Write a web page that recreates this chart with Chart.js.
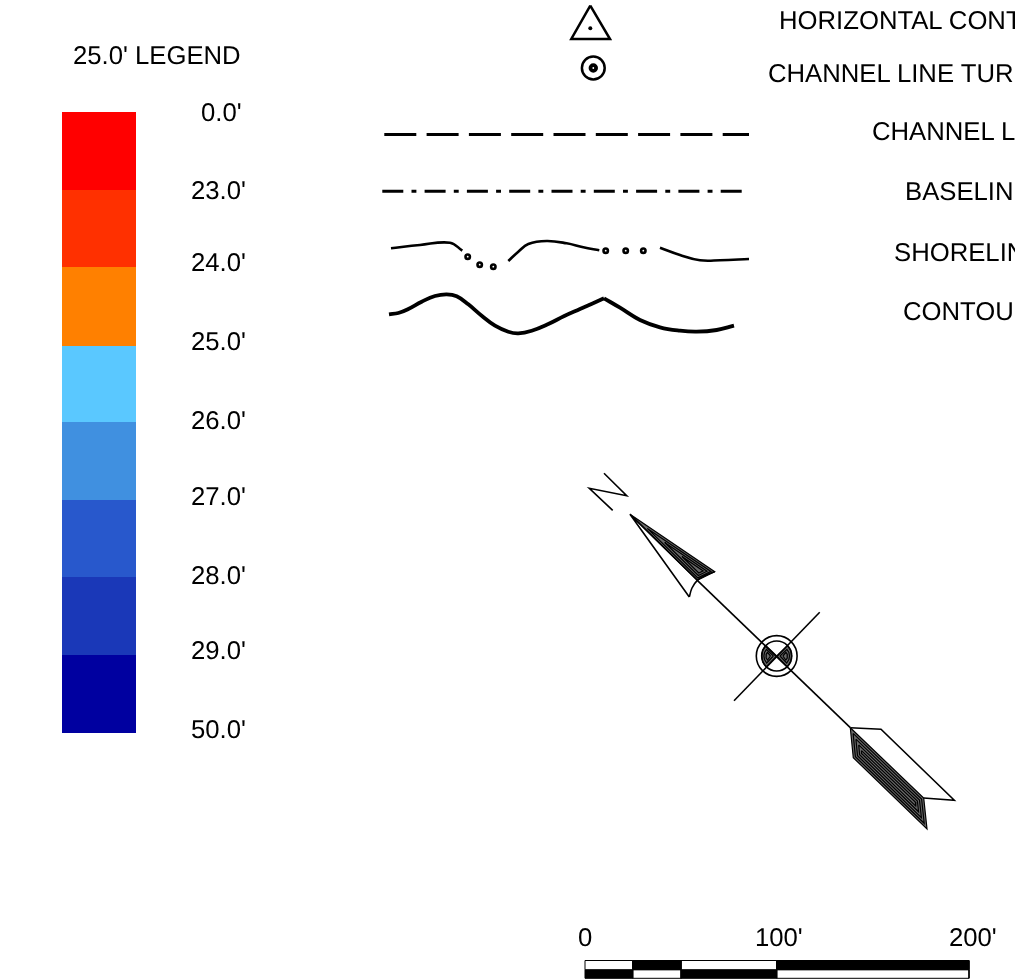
<!DOCTYPE html>
<html>
<head>
<meta charset="utf-8">
<title>Legend sheet</title>
<script src="https://cdn.jsdelivr.net/npm/chart.js@4"></script>
<style>
    html, body { margin: 0; padding: 0; background: #fff; overflow: hidden; }
    canvas { display: block; }
</style>
</head>
<body>
<canvas id="sheet" width="1015" height="979"></canvas>
<script>
// ================= DATA =================
const depthLabels = ["0.0'", "23.0'", "24.0'", "25.0'", "26.0'", "27.0'", "28.0'", "29.0'", "50.0'"];
const depthLabelX = [201, 191, 191, 191, 191, 191, 191, 191, 191];
const depthLabelY = [113.5, 191.5, 263.5, 342.5, 421.5, 497.5, 576.5, 651.5, 730.5];
const rampEdges = [112, 190, 267, 346, 422, 500, 577, 655, 733];
const rampColors = ["#ff0000", "#ff3000", "#ff8000", "#5ac8ff", "#4090e0", "#2858cc", "#1a38b8", "#0000a0"];

const keyLabels = ["HORIZONTAL CONTROL", "CHANNEL LINE TURN", "CHANNEL LINE", "BASELINE", "SHORELINE", "CONTOUR"];
const keyLabelX = [779, 768, 872, 905, 894, 903];
const keyLabelY = [21.5, 74.5, 132.5, 192.5, 253.5, 312.5];

const barEdges = [585, 632.7, 681, 776.7, 969];
const barLabels = ["0", "100'", "200'"];
const barLabelX = [578, 755, 949];

const triangleMark = [[590.3, 5.7], [571.3, 39], [610, 39], [590.3, 5.7]];
const channelLine = [[384.3, 134.5], [749, 134.5]];
const baseLine = [[382.3, 191.3], [742.7, 191.3]];

const shoreA = [[391, 248.3], [420, 245], [450, 242.7], [462.3, 250.7]];
const shoreB = [[508.3, 261], [518.3, 251.7], [528.3, 244], [546.7, 241], [566.7, 243.3], [583.3, 247.3], [599.3, 250.3]];
const shoreC = [[660, 247.7], [680, 255], [700, 260.3], [720, 260.3], [749, 259]];
const shoreDots = [[467.7, 256.7], [479.7, 264.7], [493.3, 266.7], [605.7, 250.7], [625.7, 250.7], [643.3, 250.7]];

const contourA = [[389, 314.3], [398.3, 313], [408.3, 309], [421.7, 301.7], [435, 296], [446.7, 294.3], [456.7, 296.3], [468.3, 304.3], [481.7, 315.7], [495, 325.7], [508.3, 331.7], [518.3, 333.3], [531.7, 330.7], [548.3, 324], [564.3, 316], [580, 309], [604, 298.3]];
const contourB = [[604, 298.3], [620, 307.7], [640, 320], [660, 327.3], [680, 330.7], [696.7, 331.7], [716.7, 330], [734, 325.7]];

const northN = [[604, 473.3], [626.7, 495.7], [589.3, 488.3], [612.7, 510.3]];
const shaft = [[697.3, 580.3], [850.3, 727.7]];
const crossLine = [[734, 700.7], [819.7, 612.3]];
const compassCentre = [[776.7, 656]];

const headEdge = [[697.3, 580.3], [630, 514.3], [689.3, 597]];
const headCurve = [[689.3, 597], [692, 588], [697.3, 580.3], [705, 575.5], [714.7, 571.7]];

// hatched parts, innermost ring first
const headRings = [
    [[682, 556.5], [703.2, 570.9], [698.8, 573], [682, 556.5]],
    [[664.7, 542.5], [707, 571.2], [698.3, 575.5], [664.7, 542.5]],
    [[647.3, 528.4], [710.9, 571.4], [697.8, 577.9], [647.3, 528.4]],
    [[630, 514.3], [714.7, 571.7], [697.3, 580.3], [630, 514.3]]
];

const tailOutline = [[850.3, 727.7], [881, 729.3], [954.3, 800.3], [923.7, 798]];
const tailRings = [
    [[861.5, 750.6], [915.3, 802.1], [915.8, 806.1], [861.7, 753.6], [861.5, 750.6]],
    [[858.7, 744.9], [917.4, 801.1], [918.6, 811.8], [859.6, 754.6], [858.7, 744.9]],
    [[855.9, 739.1], [919.5, 800.1], [921.4, 817.6], [857.5, 755.6], [855.9, 739.1]],
    [[853.1, 733.4], [921.6, 799], [924.2, 823.3], [855.4, 756.7], [853.1, 733.4]],
    [[850.3, 727.7], [923.7, 798], [927, 829], [853.3, 757.7], [850.3, 727.7]]
];

const wedgeLeft = [
    [[770.5, 656], [767.5, 652.3], [766.3, 654], [766, 656], [766.3, 658], [767.6, 660], [770.5, 656]],
    [[773.4, 656], [766.5, 649.4], [764.5, 652.5], [763.9, 656], [764.5, 659.5], [766.7, 663], [773.4, 656]],
    [[776.7, 656], [765.9, 645.6], [762.8, 650], [761.7, 656], [762.8, 662], [766.2, 666.8], [776.7, 656]]
];
const wedgeRight = [
    [[782.9, 656], [785.9, 652.3], [787.1, 654], [787.4, 656], [787.1, 658], [785.8, 660], [782.9, 656]],
    [[780, 656], [786.9, 649.4], [788.9, 652.5], [789.5, 656], [788.9, 659.5], [786.7, 663], [780, 656]],
    [[776.7, 656], [787.5, 645.6], [790.6, 650], [791.7, 656], [790.6, 662], [787.2, 666.8], [776.7, 656]]
];


// ================= HELPERS =================
function toPoints(pairs) {
    return pairs.map(p => ({ x: p[0], y: p[1] }));
}

function line(pairs, width, extra) {
    return Object.assign({
        type: "line",
        data: toPoints(pairs),
        borderColor: "#000",
        borderWidth: width,
        pointRadius: 0,
        fill: false,
        tension: 0,
        clip: false
    }, extra);
}

function curve(pairs, width) {
    return line(pairs, width, { tension: 0.4 });
}

function box(x1, x2, y1, y2, color, edge) {
    return line([[x1, y1], [x2, y1], [x2, y2], [x1, y2], [x1, y1]], edge ? 1 : 0, {
        backgroundColor: color,
        borderColor: edge ? "#000" : color,
        fill: "shape"
    });
}

function mark(pairs, radius, width, fillColor) {
    return {
        type: "scatter",
        data: toPoints(pairs),
        pointRadius: radius,
        pointBorderWidth: width,
        pointBorderColor: "#000",
        pointBackgroundColor: fillColor,
        clip: false
    };
}

function hatch(rings) {
    rings.forEach((ring, i) => {
        const outer = i === rings.length - 1;
        datasets.push(line(ring, 1.2, outer ? { fill: "shape", backgroundColor: "#6a6a6a" } : {}));
    });
}


// ================= DATASETS =================
// first dataset is painted last, so the inner marks come first
const datasets = [];

// ----- colour ramp -----
rampColors.forEach((color, i) => {
    datasets.push(box(62, 136, rampEdges[i], rampEdges[i + 1], color, false));
});

// ----- line key -----
datasets.push(line(triangleMark, 2.5));
datasets.push(mark([[590.3, 28.3]], 2, 0, "#000"));
datasets.push(mark([[593.3, 68]], 2.8, 3.8, "#fff"));
datasets.push(mark([[593.3, 68]], 11.4, 2.5, "#fff"));
datasets.push(line(channelLine, 2.8, { borderDash: [32, 10.3] }));
datasets.push(line(baseLine, 3, { borderDash: [21, 8.2, 4.9, 8.2] }));
datasets.push(curve(shoreA, 2.6));
datasets.push(curve(shoreB, 2.6));
datasets.push(curve(shoreC, 2.6));
datasets.push(mark(shoreDots, 2.2, 2.6, "#fff"));
datasets.push(curve(contourA, 3.8));
datasets.push(curve(contourB, 3.8));

// ----- north arrow -----
datasets.push(line(northN, 1.6));
datasets.push(line(shaft, 1.6));
datasets.push(line(crossLine, 1.6));
datasets.push(mark(compassCentre, 20.4, 1.6, "rgba(0,0,0,0)"));
datasets.push(mark(compassCentre, 15, 1.6, "rgba(0,0,0,0)"));
hatch(wedgeLeft);
hatch(wedgeRight);
datasets.push(line(headEdge, 1.6));
datasets.push(line(headCurve, 1.6, { tension: 0.4 }));
hatch(headRings);
datasets.push(line(tailOutline, 1.6));
hatch(tailRings);

// ----- scale bar -----
barEdges.slice(0, -1).forEach((left, i) => {
    const right = barEdges[i + 1];
    datasets.push(box(left, right, 960.5, 969.7, i % 2 ? "#000" : "#fff", true));
    datasets.push(box(left, right, 969.7, 978.3, i % 2 ? "#fff" : "#000", true));
});


// ================= TEXT =================
const sheetText = {
    id: "sheetText",
    afterDatasetsDraw(chart) {
        const ctx = chart.ctx;
        const xs = chart.scales.x;
        const ys = chart.scales.y;

        const put = (text, x, y) => ctx.fillText(text, xs.getPixelForValue(x), ys.getPixelForValue(y));

        ctx.save();
        ctx.font = "25.7px 'Liberation Sans'";
        ctx.textRendering = "geometricPrecision";
        ctx.fillStyle = "#000";
        ctx.textAlign = "left";
        ctx.textBaseline = "middle";

        put("25.0' LEGEND", 73, 56.5);
        depthLabels.forEach((t, i) => put(t, depthLabelX[i], depthLabelY[i]));
        keyLabels.forEach((t, i) => put(t, keyLabelX[i], keyLabelY[i]));
        barLabels.forEach((t, i) => put(t, barLabelX[i], 938.5));

        ctx.restore();
    }
};


// ================= CHART =================
new Chart(document.getElementById("sheet"), {
    type: "scatter",
    data: { datasets: datasets },
    plugins: [sheetText],
    options: {
        responsive: false,
        animation: false,
        devicePixelRatio: 1,
        layout: { padding: 0, autoPadding: false },
        plugins: {
            legend: { display: false },
            tooltip: { enabled: false },
            title: { display: false }
        },
        scales: {
            x: { type: "linear", min: 0, max: 1015, display: false },
            y: { type: "linear", min: 0, max: 979, reverse: true, display: false }
        }
    }
});
</script>
</body>
</html>
